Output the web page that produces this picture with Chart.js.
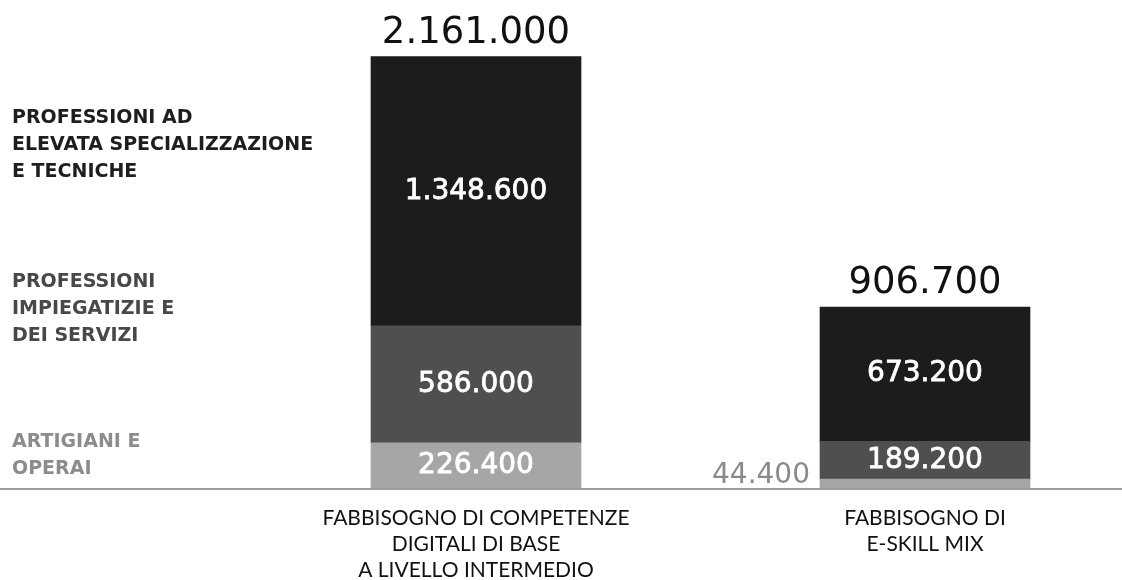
<!DOCTYPE html>
<html lang="it">
<head>
<meta charset="utf-8">
<title>Fabbisogno di competenze digitali</title>
<script src="https://cdn.jsdelivr.net/npm/chart.js@4/dist/chart.umd.min.js"></script>
<style>
  html, body { margin: 0; padding: 0; background: #fff; }
  #wrap { width: 1122px; height: 580px; position: relative; }
</style>
</head>
<body>
<div id="wrap"><canvas id="chart"></canvas></div>
<script>
const categories = [
  ["FABBISOGNO DI COMPETENZE", "DIGITALI DI BASE", "A LIVELLO INTERMEDIO"],
  ["FABBISOGNO DI", "E-SKILL MIX"]
];
const seriesNames = [
  ["ARTIGIANI E", "OPERAI"],
  ["PROFESSIONI", "IMPIEGATIZIE E", "DEI SERVIZI"],
  ["PROFESSIONI AD", "ELEVATA SPECIALIZZAZIONE", "E TECNICHE"]
];
const artigiani = [226400, 44400];
const impiegatizie = [586000, 189200];
const specializzate = [1348600, 673200];
const totals = [2161000, 906700];

const seriesColors = ["#a6a6a6", "#4f4f4f", "#1c1c1c"];
const nameColors = ["#8c8c8c", "#484848", "#1e1e1e"];

// 1234567 -> "1.234.567"
function fmt(n) {
  return String(n).replace(/\B(?=(\d{3})+(?!\d))/g, ".");
}

const numFont = '"DejaVu Sans", sans-serif';

const labelsPlugin = {
  id: "labels",
  afterDatasetsDraw(chart) {
    const ctx = chart.ctx;
    ctx.save();

    // values inside each segment
    chart.data.datasets.forEach((ds, i) => {
      const meta = chart.getDatasetMeta(i);
      meta.data.forEach((bar, j) => {
        const h = bar.base - bar.y;
        ctx.font = "28px " + numFont;
        if (h < 30) {
          // too thin: put the value beside the bar
          ctx.fillStyle = "#8a8a8a";
          ctx.textAlign = "right";
          ctx.textBaseline = "alphabetic";
          ctx.fillText(fmt(ds.data[j]), bar.x - bar.width / 2 - 10, bar.base - 5);
        } else {
          ctx.fillStyle = "#ffffff";
          ctx.strokeStyle = "#ffffff";
          ctx.lineWidth = 0.8;
          ctx.textAlign = "center";
          ctx.textBaseline = "middle";
          const ty = (bar.y + bar.base) / 2;
          ctx.fillText(fmt(ds.data[j]), bar.x, ty);
          ctx.strokeText(fmt(ds.data[j]), bar.x, ty);
        }
      });
    });

    // totals above the stacks
    const top = chart.getDatasetMeta(chart.data.datasets.length - 1);
    ctx.font = "37px " + numFont;
    ctx.fillStyle = "#111";
    ctx.textAlign = "center";
    ctx.textBaseline = "alphabetic";
    top.data.forEach((bar, j) => {
      ctx.fillText(fmt(totals[j]), bar.x, bar.y - 14);
    });

    // series names on the left
    const firstLine = [442, 282, 118];
    ctx.font = 'bold 19px "DejaVu Sans", sans-serif';
    ctx.textAlign = "left";
    ctx.textBaseline = "middle";
    seriesNames.forEach((lines, i) => {
      ctx.fillStyle = nameColors[i];
      lines.forEach((t, k) => ctx.fillText(t, 12, firstLine[i] + k * 27));
    });

    // baseline
    const y0 = chart.scales.y.getPixelForValue(0);
    ctx.strokeStyle = "#9d9d9d";
    ctx.lineWidth = 2;
    ctx.beginPath();
    ctx.moveTo(0, y0 + 1);
    ctx.lineTo(chart.width, y0 + 1);
    ctx.stroke();

    ctx.restore();
  }
};

const data = {
  labels: categories,
  datasets: [
    { label: seriesNames[0].join(" "), data: artigiani, backgroundColor: seriesColors[0] },
    { label: seriesNames[1].join(" "), data: impiegatizie, backgroundColor: seriesColors[1] },
    { label: seriesNames[2].join(" "), data: specializzate, backgroundColor: seriesColors[2] }
  ]
};

const config = {
  type: "bar",
  data: data,
  options: {
    responsive: true,
    maintainAspectRatio: false,
    animation: false,
    layout: { padding: { left: 476, right: 197, top: 9, bottom: 0 } },
    datasets: { bar: { barThickness: 210, clip: false } },
    plugins: {
      legend: { display: false },
      tooltip: { enabled: false }
    },
    scales: {
      x: {
        stacked: true,
        offset: false,
        grid: { display: false, drawTicks: false },
        border: { display: false },
        ticks: {
          padding: 17,
          color: "#111",
          font: { family: "Lato, sans-serif", size: 21, lineHeight: 1.24 },
          maxRotation: 0,
          autoSkip: false
        },
        afterFit: (scale) => { scale.height = 92; }
      },
      y: {
        stacked: true,
        display: false,
        min: 0,
        max: 2400000
      }
    }
  },
  plugins: [labelsPlugin]
};

const myChart = new Chart(document.getElementById("chart"), config);
</script>
</body>
</html>
